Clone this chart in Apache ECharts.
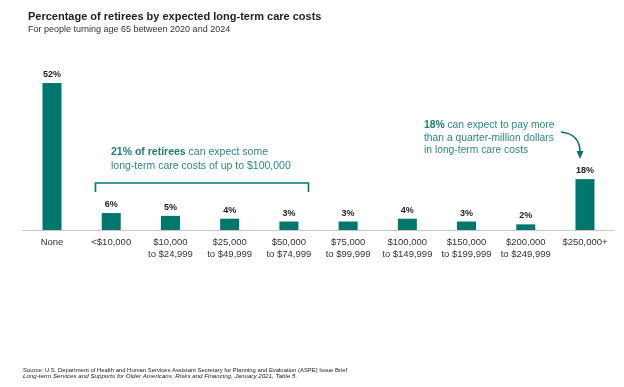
<!DOCTYPE html>
<html>
<head>
<meta charset="utf-8">
<script src="https://cdn.jsdelivr.net/npm/echarts@6/dist/echarts.min.js"></script>
<style>html,body{margin:0;padding:0;background:#fff}#c{width:624px;height:387px}</style>
</head>
<body>
<div id="c"></div>
<script>
var categories = ['None', '<$10,000', '$10,000\nto $24,999', '$25,000\nto $49,999', '$50,000\nto $74,999',
  '$75,000\nto $99,999', '$100,000\nto $149,999', '$150,000\nto $199,999', '$200,000\nto $249,999', '$250,000+'];
var values = [52, 6, 5, 4, 3, 3, 4, 3, 2, 18];

var TEAL = '#00776d';
var TEXT_TEAL = '#2b8a80';
var FONT = 'Liberation Sans, Arial, sans-serif';

var chart = echarts.init(document.getElementById('c'), null, {renderer: 'canvas'});
chart.setOption({
  animation: false,
  backgroundColor: '#fff',
  textStyle: {fontFamily: FONT},
  title: [
    {text: 'Percentage of retirees by expected long-term care costs', left: 23, top: 6,
     textStyle: {fontSize: 11, fontWeight: 'bold', color: '#222', fontFamily: FONT}},
    {text: 'For people turning age 65 between 2020 and 2024', left: 23, top: 20,
     textStyle: {fontSize: 9, fontWeight: 'normal', color: '#333', fontFamily: FONT}}
  ],
  grid: {left: 22.4, right: 9.4, top: 60.4, bottom: 157, containLabel: false},
  xAxis: {
    type: 'category', data: categories,
    axisLine: {lineStyle: {color: '#c8c8c8', width: 1}},
    axisTick: {show: false},
    axisLabel: {color: '#333', fontSize: 9.5, lineHeight: 12, margin: 6, interval: 0, fontFamily: FONT}
  },
  yAxis: {type: 'value', min: 0, max: 60, show: false, splitLine: {show: false}},
  series: [{
    type: 'bar', data: values, barWidth: 19,
    itemStyle: {color: TEAL},
    label: {show: true, position: 'top', distance: 4, formatter: '{c}%',
      color: '#222', fontSize: 9, fontWeight: 'bold', fontFamily: FONT}
  }],
  graphic: [
    {type: 'text', left: 111, top: 145,
     style: {text: '{b|21% of retirees} can expect some\nlong-term care costs of up to $100,000',
       rich: {b: {fontWeight: 'bold', fill: '#1f7f75', fontSize: 10.5, fontFamily: FONT}},
       fill: TEXT_TEAL, fontSize: 10.5, lineHeight: 14, fontFamily: FONT}},
    {type: 'polyline', shape: {points: [[95.5, 192], [95.5, 183], [308.5, 183], [308.5, 192]]},
     style: {stroke: TEAL, lineWidth: 1.6, fill: null}},
    {type: 'text', left: 424, top: 119,
     style: {text: '{b|18%} can expect to pay more\nthan a quarter-million dollars\nin long-term care costs',
       rich: {b: {fontWeight: 'bold', fill: '#1f7f75', fontSize: 10.3, fontFamily: FONT}},
       fill: TEXT_TEAL, fontSize: 10.3, lineHeight: 12.5, fontFamily: FONT}},
    {type: 'bezierCurve', shape: {x1: 561, y1: 132, cpx1: 573, cpy1: 133, cpx2: 580, cpy2: 140, x2: 580, y2: 152},
     style: {stroke: TEAL, lineWidth: 1.6, fill: null}},
    {type: 'polygon', shape: {points: [[576.5, 151], [583.5, 151], [580, 159]]},
     style: {fill: TEAL}},
    {type: 'text', left: 23, top: 367,
     style: {text: 'Source: U.S. Department of Health and Human Services Assistant Secretary for Planning and Evaluation (ASPE) Issue Brief',
       fill: '#222', fontSize: 5.9, fontFamily: FONT}},
    {type: 'text', left: 23, top: 373.5,
     style: {text: 'Long-term Services and Supports for Older Americans: Risks and Financing, January 2021, Table 5.',
       fill: '#222', fontSize: 6.2, fontStyle: 'italic', fontFamily: FONT}}
  ]
});
</script>
</body>
</html>
